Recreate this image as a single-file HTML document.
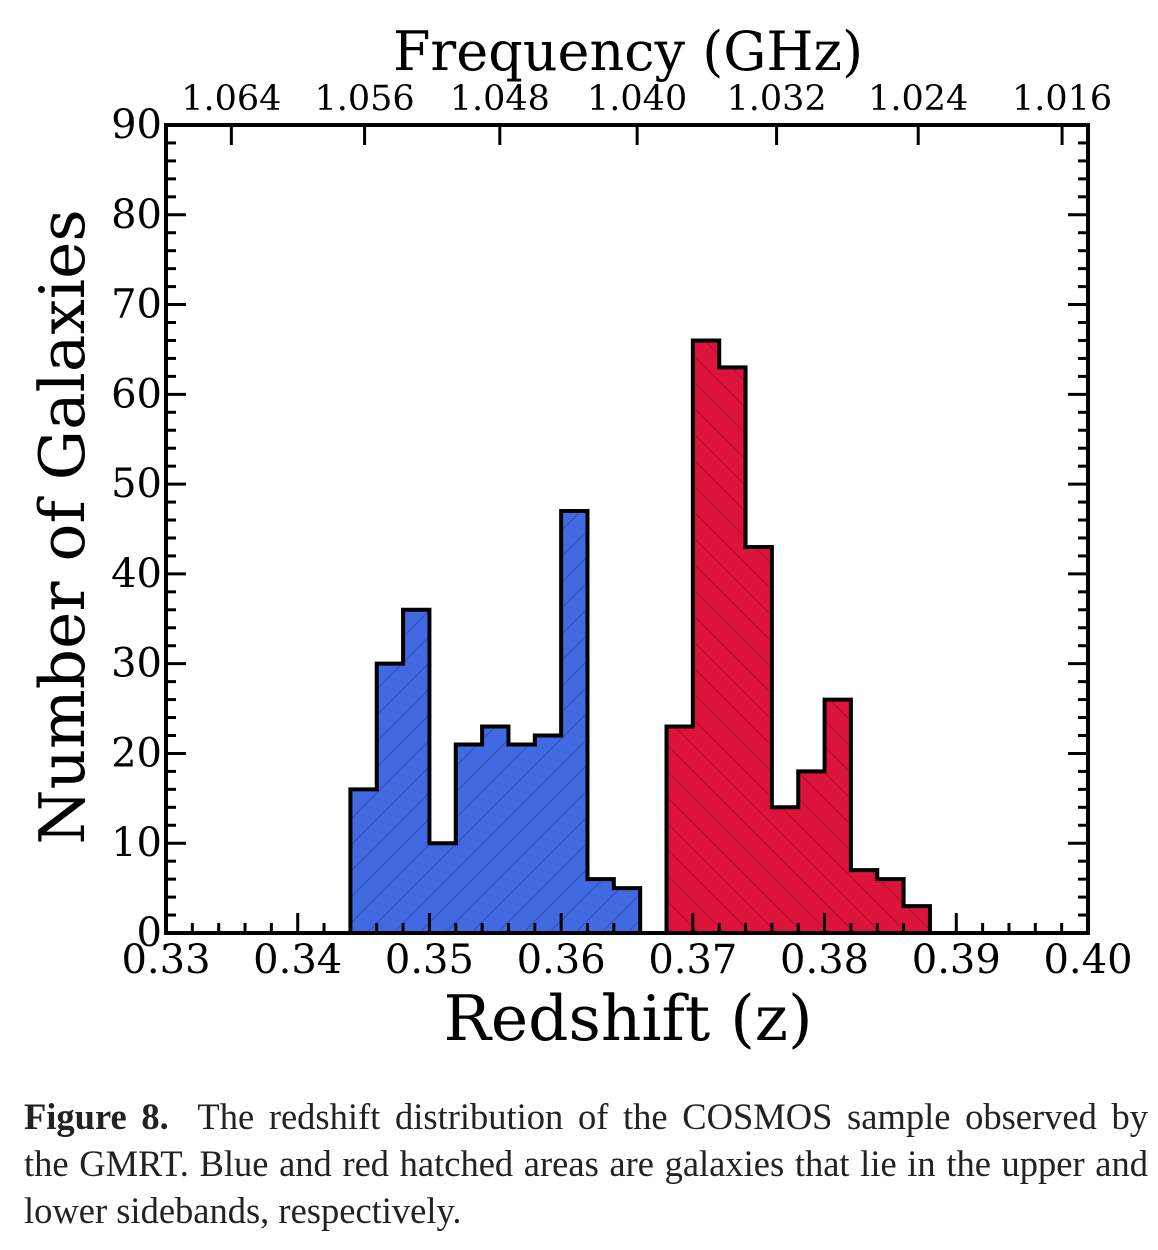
<!DOCTYPE html>
<html><head><meta charset="utf-8"><style>
html,body{margin:0;padding:0;background:#fff;width:1158px;height:1250px;overflow:hidden}
svg{display:block}
.cap{position:absolute;left:24px;top:1093px;width:1124px;font-family:"Liberation Serif",serif;font-size:36.5px;line-height:47px;color:#222}
.cap div{text-align:justify;text-align-last:justify;white-space:nowrap}
.cap div.last{text-align-last:left}
</style></head><body>
<svg id="chart" width="1158" height="1080" xmlns="http://www.w3.org/2000/svg">
<defs>
<pattern id="hb" patternUnits="userSpaceOnUse" width="26" height="26"><rect width="26" height="26" fill="#4169e1"/><path d="M-2,28 L28,-2 M-15,15 L15,-15 M11,41 L41,11" stroke="#3050b8" stroke-width="1"/></pattern>
<pattern id="hr" patternUnits="userSpaceOnUse" width="26" height="26"><rect width="26" height="26" fill="#dc143c"/><path d="M-2,-2 L28,28 M-15,11 L15,41 M11,-15 L41,15" stroke="#b01030" stroke-width="1"/></pattern>
</defs>
<g id="bars"></g>
<g id="axes"></g>
</svg>
<div class="cap"><div><b>Figure 8.</b>&nbsp; The redshift distribution of the COSMOS sample observed by</div><div>the GMRT. Blue and red hatched areas are galaxies that lie in the upper and</div><div class="last">lower sidebands, respectively.</div></div>
<script>
const blueStart = 0.344;
const blueCounts = [16,30,36,10,21,23,21,22,47,6,5];
const redStart = 0.368;
const redCounts = [23,66,63,43,14,18,26,7,6,3];
const binWidth = 0.002;
const xTicks = [0.33,0.34,0.35,0.36,0.37,0.38,0.39,0.40];
const xTickLabels = ["0.33","0.34","0.35","0.36","0.37","0.38","0.39","0.40"];
const yTicks = [0,10,20,30,40,50,60,70,80,90];
const freqTicks = [1.064,1.056,1.048,1.040,1.032,1.024,1.016];
const freqLabels = ["1.064","1.056","1.048","1.040","1.032","1.024","1.016"];
const restFreq = 1.4204;

const L=166,R=1088,T=125,B=933;
const SERIF='DejaVu Serif, serif';
const X=z=>L+(z-0.33)/0.07*(R-L);
const Y=v=>B-v/90*(B-T);
const NS="http://www.w3.org/2000/svg";
function mk(tag,attrs,parent){const e=document.createElementNS(NS,tag);for(const k in attrs)e.setAttribute(k,attrs[k]);parent.appendChild(e);return e;}
const bars=document.getElementById('bars'), axes=document.getElementById('axes');

function hist(start,counts,fill,name){
  let d=`M${X(start)},${Y(0)}`;
  counts.forEach((c,i)=>{const x0=X(start+i*binWidth),x1=X(start+(i+1)*binWidth);d+=` L${x0},${Y(c)} L${x1},${Y(c)}`;});
  d+=` L${X(start+counts.length*binWidth)},${Y(0)} Z`;
  const p=mk('path',{d:d,fill:fill,stroke:'#000','stroke-width':4,'stroke-linejoin':'miter'},bars);
  
  
}
hist(blueStart,blueCounts,'url(#hb)','upper-sideband-histogram');
hist(redStart,redCounts,'url(#hr)','lower-sideband-histogram');

for(let i=0;i<=35;i++){const x=X(0.33+i*0.002);const maj=i%5===0;
  mk('line',{x1:x,x2:x,y1:B,y2:B-(maj?20:10),stroke:'#000','stroke-width':3},axes);}
for(let i=0;i<=45;i++){const y=Y(i*2);const maj=i%5===0;const len=maj?20:10;
  mk('line',{x1:L,x2:L+len,y1:y,y2:y,stroke:'#000','stroke-width':3},axes);
  mk('line',{x1:R,x2:R-len,y1:y,y2:y,stroke:'#000','stroke-width':3},axes);}
freqTicks.forEach((f,i)=>{const x=X(restFreq/f-1);
  mk('line',{x1:x,x2:x,y1:T,y2:T+20,stroke:'#000','stroke-width':3},axes);
  const t=mk('text',{x:x,y:T-15,'text-anchor':'middle','font-family':SERIF,'font-size':35},axes);
  t.textContent=freqLabels[i];
  
  
});
xTicks.forEach((z,i)=>{const t=mk('text',{x:X(z),y:B+40,'text-anchor':'middle','font-family':SERIF,'font-size':40},axes);
  t.textContent=xTickLabels[i];
  
  
});
yTicks.forEach(v=>{const t=mk('text',{x:L-4,y:Y(v)+13,'text-anchor':'end','font-family':SERIF,'font-size':40},axes);
  t.textContent=String(v);
  
  
});
const fr=mk('rect',{x:L,y:T,width:R-L,height:B-T,fill:'none',stroke:'#000','stroke-width':4},axes);


let t=mk('text',{x:628,y:70,'text-anchor':'middle','font-family':SERIF,'font-size':54},axes);
t.textContent='Frequency (GHz)';


t=mk('text',{x:628,y:1040,'text-anchor':'middle','font-family':SERIF,'font-size':63},axes);
t.textContent='Redshift (z)';


t=mk('text',{x:0,y:0,'text-anchor':'middle','font-family':SERIF,'font-size':63,transform:'translate(84,527) rotate(-90)'},axes);
t.textContent='Number of Galaxies';


</script>
</body></html>
